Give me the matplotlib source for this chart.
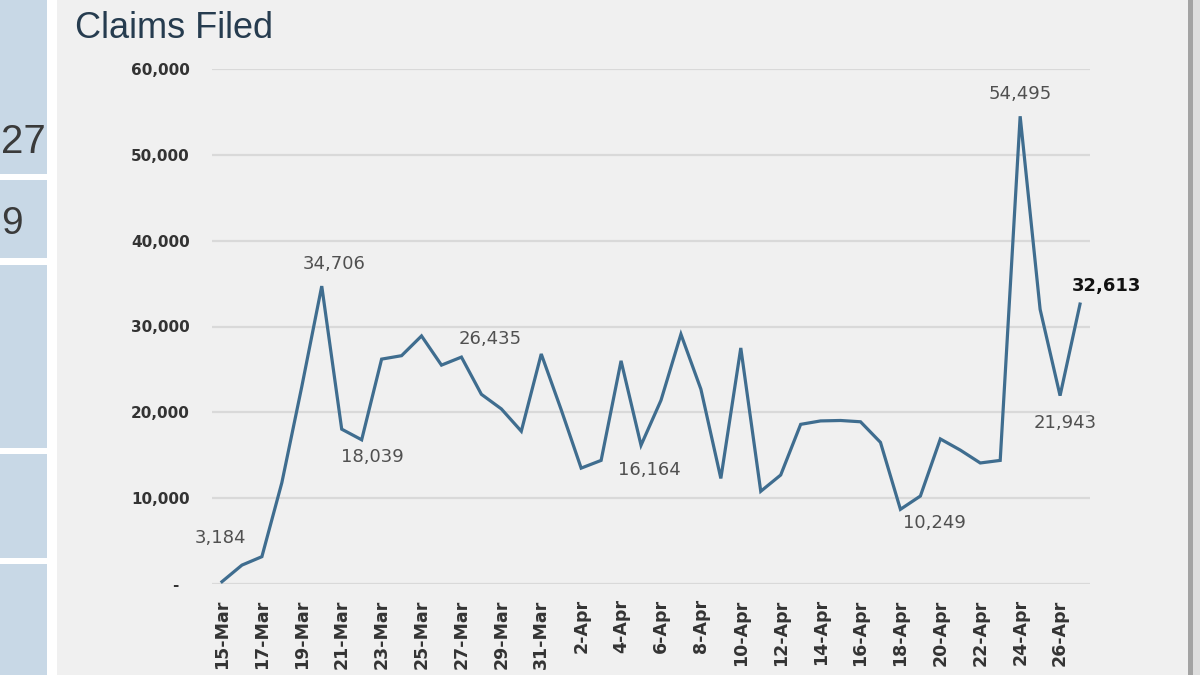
import matplotlib.pyplot as plt
import matplotlib.ticker as mticker
from matplotlib.patches import Rectangle
import numpy as np
import pandas as pd

# daily claims filed, 15-Mar to 27-Apr
dates = pd.date_range('2020-03-15', '2020-04-27', freq='D')
date_labels = [f'{d.day}-{d:%b}' for d in dates]
claims = [270, 2200, 3184, 11800, 23000, 34706, 18039, 16800, 26200, 26600,
          28900, 25500, 26435, 22100, 20400, 17800, 26800, 20300, 13500, 14400,
          26000, 16164, 21400, 29100, 22700, 12300, 27500, 10800, 12700, 18600,
          19000, 19050, 18900, 16500, 8700, 10249, 16900, 15600, 14100, 14400,
          54495, 32000, 21943, 32613]

# which points carry a data label, and where the label sits (pixels)
label_days = ['17-Mar', '20-Mar', '21-Mar', '27-Mar', '5-Apr', '19-Apr',
              '24-Apr', '26-Apr', '27-Apr']
label_offsets = [(-41, 19), (12, 22), (31, -28), (29, 18), (8, -25), (14, -27),
                 (0, 22), (5, -27), (26, 18)]

panel = '#f0f0f0'
line_col = '#3f6d8f'

fig = plt.figure(figsize=(12, 6.75), dpi=100, facecolor=panel)

# left strip of the slide (blue boxes with clipped numbers)
fig.add_artist(Rectangle((0, 0), 57 / 1200, 1, transform=fig.transFigure,
                         facecolor='white', edgecolor='none', zorder=0))
for y0, y1 in [(0, 174), (180, 258), (265, 448), (454, 558), (564, 675)]:
    fig.add_artist(Rectangle((0, 1 - y1 / 675), 47 / 1200, (y1 - y0) / 675,
                             transform=fig.transFigure, facecolor='#c8d8e6',
                             edgecolor='none', zorder=1))
fig.text(46 / 1200, 1 - 153 / 675, '27', fontsize=29, color='#3a3a3a',
         ha='right', va='baseline', family='Liberation Sans')
fig.text(1 / 1200, 1 - 234 / 675, '9', fontsize=28, color='#3a3a3a',
         ha='left', va='baseline', family='Liberation Sans')

# right border
fig.add_artist(Rectangle((1188 / 1200, 0), 5 / 1200, 1, transform=fig.transFigure,
                         facecolor='#a3a3a3', edgecolor='none'))
fig.add_artist(Rectangle((1193 / 1200, 0), 7 / 1200, 1, transform=fig.transFigure,
                         facecolor='#dedede', edgecolor='none'))

fig.text(75 / 1200, 1 - 38 / 675, 'Claims Filed', fontsize=26, color='#263c4f',
         ha='left', va='baseline', family='Liberation Sans')

ax = fig.add_axes([212 / 1200, 91 / 675, 878 / 1200, 515 / 675])
ax.set_facecolor(panel)

x = np.arange(len(claims))
ax.plot(x, claims, color=line_col, lw=2.3, solid_joinstyle='miter', zorder=3)

ax.set_xlim(-0.5, len(claims) - 0.5)
ax.set_ylim(0, 60000)
ax.yaxis.set_major_locator(mticker.MultipleLocator(10000))
ax.yaxis.set_major_formatter(mticker.FuncFormatter(
    lambda v, p: '-  ' if v == 0 else f'{v:,.0f}'))
ax.set_xticks(x[::2])
ax.set_xticklabels(date_labels[::2], rotation=90)
ax.tick_params(length=0, labelcolor='#333333')
ax.tick_params(axis='x', pad=11, labelsize=12.5)
ax.tick_params(axis='y', pad=16, labelsize=11)
for lab in ax.get_xticklabels() + ax.get_yticklabels():
    lab.set_fontweight('bold')

ax.grid(axis='y', color='#d9d9d9', lw=1.6, zorder=1)
ax.set_axisbelow(True)
for s in ax.spines.values():
    s.set_visible(False)

for day, (dx, dy) in zip(label_days, label_offsets):
    i = date_labels.index(day)
    last = i == len(claims) - 1
    ax.annotate(f'{claims[i]:,}', (x[i], claims[i]), xytext=(dx, dy),
                textcoords='offset pixels', ha='center', va='center',
                fontsize=13, color='#111111' if last else '#505050',
                fontweight='bold' if last else 'normal', zorder=4)

fig.savefig('out.png', dpi=100, facecolor=fig.get_facecolor())
